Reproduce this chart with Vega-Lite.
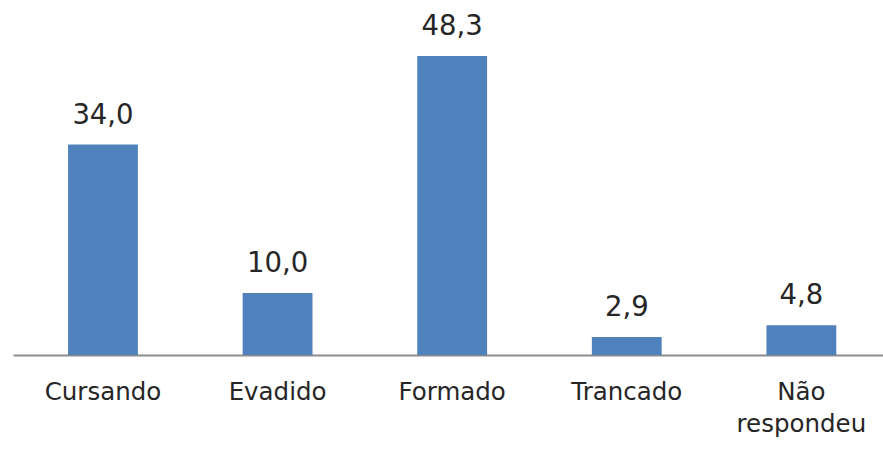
{
  "$schema": "https://vega.github.io/schema/vega-lite/v6.json",
  "width": 870,
  "height": 355,
  "autosize": {"type": "none"},
  "padding": {"left": 13, "top": 0, "right": 0, "bottom": 94},
  "config": {
    "view": {"stroke": null},
    "font": "DejaVu Sans",
    "locale": {
      "number": {"decimal": ",", "thousands": ".", "grouping": [3], "currency": ["R$", ""]}
    }
  },
  "data": {
    "values": [
      {"situacao": "Cursando", "pct": 34.0},
      {"situacao": "Evadido", "pct": 10.0},
      {"situacao": "Formado", "pct": 48.3},
      {"situacao": "Trancado", "pct": 2.9},
      {"situacao": "Não respondeu", "pct": 4.8}
    ]
  },
  "encoding": {
    "x": {
      "field": "situacao",
      "type": "nominal",
      "sort": null,
      "scale": {"paddingInner": 0.6, "paddingOuter": 0.2915, "align": 0.541},
      "axis": {
        "title": null,
        "ticks": false,
        "labelAngle": 0,
        "labelFont": "DejaVu Sans",
        "labelFontSize": 24.5,
        "labelColor": "#262626",
        "labelBaseline": "alphabetic",
        "labelPadding": 44,
        "labelLineHeight": 32,
        "labelExpr": "datum.label == 'Não respondeu' ? ['Não', 'respondeu'] : datum.label",
        "domainColor": "#8c8c8c",
        "domainWidth": 2
      }
    },
    "y": {
      "field": "pct",
      "type": "quantitative",
      "scale": {"domain": [0, 57.35], "nice": false},
      "axis": null
    }
  },
  "layer": [
    {"mark": {"type": "bar", "color": "#4F81BD"}},
    {
      "mark": {"type": "text", "dy": -21, "baseline": "alphabetic", "fontSize": 27.5, "color": "#262626"},
      "encoding": {"text": {"field": "pct", "type": "quantitative", "format": ".1f"}}
    }
  ]
}
